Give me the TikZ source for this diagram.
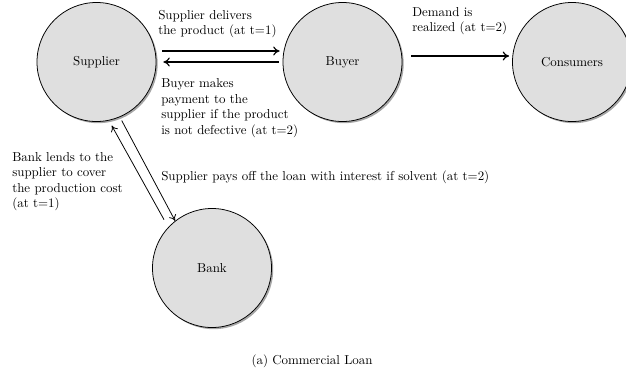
\documentclass[tikz,border=0pt]{standalone}
\usepackage{amsmath}
\usetikzlibrary{shadows}
\usetikzlibrary{calc}
\usetikzlibrary{arrows.meta}

\begin{document}
\begin{tikzpicture}[x=0.773pt,y=0.773pt,yscale=-1,xscale=1,
  agent/.style={circle,draw,semithick,fill=gray!25,minimum size=92pt,inner sep=0pt,
    drop shadow={shadow xshift=1.3pt,shadow yshift=-1.3pt,opacity=.7}},
  flow/.style={-{To[length=5pt,width=7pt]},line width=0.9pt},
  loan/.style={-{To[length=4.5pt,width=6pt]},line width=0.6pt},
  note/.style={align=left,anchor=north west,inner sep=0pt}]
\useasboundingbox (0,0) rectangle (626,374);

%Shape: Circle
\draw (96.5,62) node[agent] (sup) {Supplier};
%Shape: Circle
\draw (342.5,62) node[agent] (buy) {Buyer};
%Shape: Circle
\draw (572,62) node[agent] (con) {Consumers};
%Shape: Circle
\draw (212,268) node[agent] (bank) {Bank};

%Straight Lines
\draw [flow] ($(sup.east)+(6,-11)$) -- ($(buy.west)+(-3,-11)$);
%Straight Lines
\draw [flow] ($(buy.west)+(-4,0)$) -- ($(sup.east)+(7,0)$);
%Straight Lines
\draw [flow] ($(buy.east)+(9,-6)$) -- ($(con.west)+(-3,-6)$);
%Straight Lines
\draw [loan,shorten <=6.6pt,shorten >=4.5pt] (bank.137) -- (sup.-78);
%Straight Lines
\draw [loan,shorten <=3pt] (sup.-67) -- (bank.128);

% Text Node
\draw (158,10) node[note] (tdel) {Supplier delivers\\the product (at t=1)};
% Text Node
\draw (161,78.5) node[note] (tpay) {Buyer makes\\payment to the\\supplier if the product\\is not defective (at t=2)};
% Text Node
\draw (412,7) node[note] (tdem) {Demand is\\realized (at t=2)};
% Text Node
\draw (12,152) node[note] (tlend) {Bank lends to the\\supplier to cover\\the production cost\\(at t=1)};
% Text Node
\draw (161,170.5) node[note] (trep) {Supplier pays off the loan with interest if solvent (at t=2)};
% Text Node
\draw (312,361) node (cap) {(a) Commercial Loan};

\end{tikzpicture}
\end{document}
